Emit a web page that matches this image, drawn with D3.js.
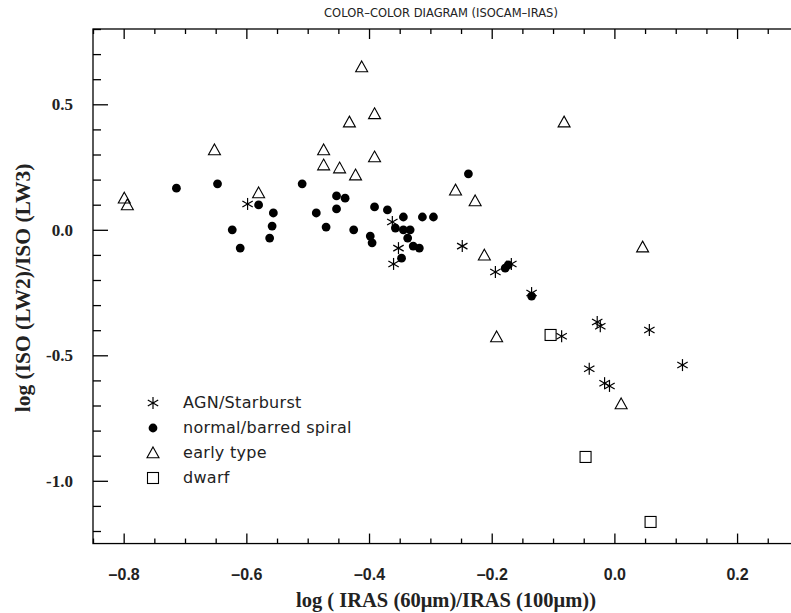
<!DOCTYPE html>
<html><head><meta charset="utf-8">
<script src="https://cdn.jsdelivr.net/npm/d3@7"></script>
<style>body{margin:0;background:#fff}svg{display:block}</style>
</head><body>
<svg id="c" width="791" height="613"></svg>
<script>
// ---- data (x = log IRAS 60/100, y = log ISO LW2/LW3) ----
const agnX = [-0.598,-0.362,-0.352,-0.360,-0.248,-0.194,-0.168,-0.135,-0.086,-0.028,-0.023,0.057,-0.041,-0.016,-0.008,0.111];
const agnY = [0.103,0.031,-0.073,-0.136,-0.065,-0.168,-0.136,-0.252,-0.424,-0.367,-0.384,-0.399,-0.554,-0.611,-0.622,-0.539];
const normX = [-0.714,-0.647,-0.509,-0.238,-0.623,-0.610,-0.580,-0.556,-0.558,-0.562,-0.486,-0.470,-0.453,-0.453,-0.439,-0.425,-0.398,-0.395,-0.391,-0.370,-0.357,-0.344,-0.344,-0.333,-0.337,-0.328,-0.318,-0.347,-0.313,-0.295,-0.178,-0.173,-0.135];
const normY = [0.166,0.183,0.183,0.223,0.000,-0.073,0.099,0.067,0.015,-0.033,0.067,0.011,0.135,0.083,0.126,0.000,-0.025,-0.052,0.091,0.079,0.007,0.051,0.000,0.000,-0.033,-0.065,-0.073,-0.113,0.051,0.051,-0.153,-0.140,-0.264];
const earlyX = [-0.799,-0.794,-0.652,-0.580,-0.474,-0.474,-0.448,-0.432,-0.422,-0.412,-0.391,-0.391,-0.259,-0.227,-0.212,-0.082,0.046,-0.192,0.011];
const earlyY = [0.126,0.099,0.318,0.147,0.318,0.258,0.246,0.429,0.218,0.649,0.462,0.290,0.158,0.115,-0.101,0.429,-0.069,-0.427,-0.694];
const dwarfX = [-0.104,-0.047,0.059];
const dwarfY = [-0.419,-0.905,-1.164];
const legendLabels = ["AGN/Starburst","normal/barred spiral","early type","dwarf"];
const xMajor = [-0.8,-0.6,-0.4,-0.2,0.0,0.2];
const xMajorLabels = ["\u20130.8","\u20130.6","\u20130.4","\u20130.2","0.0","0.2"];
const yMajor = [0.5,0.0,-0.5,-1.0];
const yMajorLabels = ["0.5","0.0","-0.5","-1.0"];
const title = "COLOR\u2013COLOR DIAGRAM (ISOCAM\u2013IRAS)";
const xTitle = "log ( IRAS (60\u03bcm)/IRAS (100\u03bcm))";
const yTitle = "log (ISO (LW2)/ISO (LW3)";

const svg = d3.select("#c");
const L = 93, T = 29, B = 29 + 2.05*251;
const x = d3.scaleLinear().domain([-0.85, 0.3]).range([L, L + 1.15*613.4]);
const y = d3.scaleLinear().domain([0.8, -1.25]).range([T, B]);
const R = x(0.3);

// frame
svg.append("rect").attr("x", L).attr("y", T).attr("width", R - L).attr("height", B - T)
  .attr("fill", "none").attr("stroke", "#000").attr("stroke-width", 1.3);

const xMinor = d3.range(-0.85, 0.3001, 0.05).map(v => +v.toFixed(2)).filter(v => !xMajor.some(m => Math.abs(m - v) < 1e-6));
const yMinor = d3.range(-1.2, 0.8001, 0.1).map(v => +v.toFixed(2)).filter(v => !yMajor.some(m => Math.abs(m - v) < 1e-6));

function styleAxis(g){ g.select(".domain").remove(); g.selectAll("line").attr("stroke","#000").attr("stroke-width",1.3); }

// bottom axis
svg.append("g").attr("transform", `translate(0,${B})`)
  .call(d3.axisBottom(x).tickValues(xMajor).tickSize(-10).tickPadding(25).tickFormat((d,i)=>xMajorLabels[i]))
  .call(styleAxis)
  .call(g => g.selectAll("text").attr("font-family","Liberation Sans, Arial, sans-serif").attr("font-weight","bold").attr("font-size",16).attr("fill","#222"));
svg.append("g").attr("transform", `translate(0,${B})`)
  .call(d3.axisBottom(x).tickValues(xMinor).tickSize(-5).tickFormat(""))
  .call(styleAxis);
// top axis
svg.append("g").attr("transform", `translate(0,${T})`)
  .call(d3.axisTop(x).tickValues(xMajor).tickSize(-10).tickFormat(""))
  .call(styleAxis);
svg.append("g").attr("transform", `translate(0,${T})`)
  .call(d3.axisTop(x).tickValues(xMinor).tickSize(-5).tickFormat(""))
  .call(styleAxis);
// left axis
svg.append("g").attr("transform", `translate(${L},0)`)
  .call(d3.axisLeft(y).tickValues(yMajor).tickSize(-15).tickPadding(20).tickFormat((d,i)=>yMajorLabels[i]))
  .call(styleAxis)
  .call(g => g.selectAll("text").attr("font-family","Liberation Serif, Times New Roman, serif").attr("font-weight","bold").attr("font-size",17).attr("fill","#222"));
svg.append("g").attr("transform", `translate(${L},0)`)
  .call(d3.axisLeft(y).tickValues(yMinor).tickSize(-8).tickFormat(""))
  .call(styleAxis);

// title & axis titles
svg.append("text").attr("x", 441).attr("y", 17).attr("text-anchor","middle")
  .attr("font-family","DejaVu Sans, sans-serif").attr("font-size",11.5).attr("fill","#222").text(title);
svg.append("text").attr("x", 446).attr("y", 607).attr("text-anchor","middle")
  .attr("font-family","Liberation Serif, Times New Roman, serif").attr("font-weight","bold").attr("font-size",20.5).attr("fill","#222").text(xTitle);
svg.append("text").attr("transform","translate(30,288) rotate(-90)").attr("text-anchor","middle")
  .attr("font-family","Liberation Serif, Times New Roman, serif").attr("font-weight","bold").attr("font-size",21.5).attr("fill","#222").text(yTitle);

// symbols
const plot = svg.append("g");
function asterisk(g, cx, cy){
  const s = 6;
  const p = g.append("g").attr("transform",`translate(${cx},${cy})`).attr("stroke","#000").attr("stroke-width",1.2);
  [0,60,120].forEach(a => {
    const r = a*Math.PI/180;
    p.append("line").attr("x1",-s*Math.sin(r)).attr("y1",-s*Math.cos(r)).attr("x2",s*Math.sin(r)).attr("y2",s*Math.cos(r));
  });
}
function triangle(g, cx, cy){
  const s = 6;
  g.append("path").attr("d",`M${cx},${cy-s}L${cx+s},${cy+s*0.8}L${cx-s},${cy+s*0.8}Z`)
    .attr("fill","none").attr("stroke","#000").attr("stroke-width",1.1);
}
function square(g, cx, cy){
  const s = 5.5;
  g.append("rect").attr("x",cx-s).attr("y",cy-s).attr("width",2*s).attr("height",2*s)
    .attr("fill","none").attr("stroke","#000").attr("stroke-width",1.1);
}
earlyX.forEach((v,i)=>triangle(plot, x(v), y(earlyY[i])));
dwarfX.forEach((v,i)=>square(plot, x(v), y(dwarfY[i])));
plot.selectAll("circle.n").data(normX).join("circle").attr("class","n")
  .attr("cx",(d)=>x(d)).attr("cy",(d,i)=>y(normY[i])).attr("r",4.4).attr("fill","#000");
agnX.forEach((v,i)=>asterisk(plot, x(v), y(agnY[i])));

// legend
const lg = svg.append("g");
const ly = [403,428,453,478];
asterisk(lg, 153, ly[0]);
lg.append("circle").attr("cx",153).attr("cy",ly[1]).attr("r",4.4).attr("fill","#000");
triangle(lg, 153, ly[2]);
square(lg, 153, ly[3]);
legendLabels.forEach((t,i)=>lg.append("text").attr("x",183).attr("y",ly[i]+5)
  .attr("font-family","DejaVu Sans, sans-serif").attr("font-size",16).attr("letter-spacing",0.3).attr("fill","#222").text(t));
</script>
</body></html>
